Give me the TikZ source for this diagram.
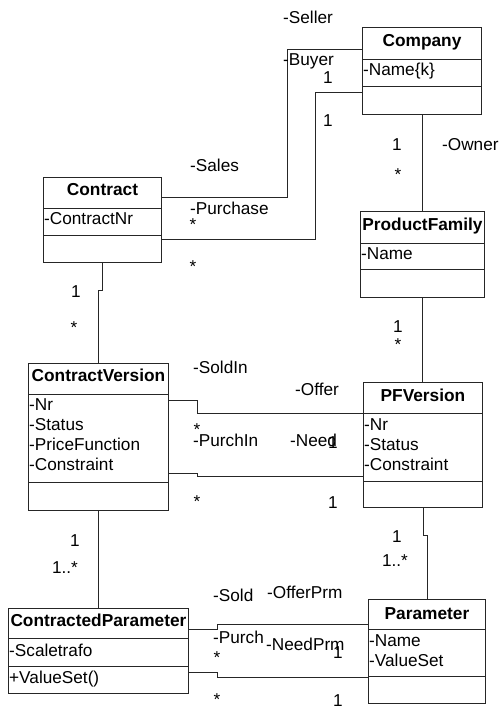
\documentclass[tikz,border=0pt]{standalone}
\usepackage{fontspec}
\setmainfont{Liberation Sans}
\begin{document}
\begin{tikzpicture}[x=1pt,y=-1pt,
  every node/.style={font=\fontsize{17.2}{20}\selectfont},
  classbox/.style={draw=black!85, line width=0.95pt, anchor=north west, inner sep=0pt, rectangle},
  sep/.style={draw=black!85, line width=0.95pt},
  assoc/.style={draw=black!85, line width=0.95pt},
  ctitle/.style={font=\fontsize{17.3}{20}\selectfont\bfseries, inner sep=0pt, text height=0.72em, text depth=0pt, anchor=center},
  attr/.style={inner sep=0pt, text height=0.72em, text depth=0pt, anchor=west, xshift=1pt},
  role/.style={inner sep=0pt, text height=0.72em, text depth=0pt, anchor=west},
  mult/.style={inner sep=0pt, text height=0.72em, text depth=0pt, anchor=center},
  many/.style={mult, yshift=-3.5pt}
]
\useasboundingbox (0,0) rectangle (499,710);
\fill[white] (0,0) rectangle (499,710);

% ---------- classes ----------
% Company
\node[classbox, minimum width=119pt, minimum height=87pt] (company) at (362,27) {};
\draw[sep] (company.west |- 0,59) -- (company.east |- 0,59);
\draw[sep] (company.west |- 0,86) -- (company.east |- 0,86);
\node[ctitle] (companyT) at (company.north |- 0,43) {Company};
\node[attr] (companyA) at (company.west |- 0,72) {-Name\{k\}};

% Contract
\node[classbox, minimum width=118pt, minimum height=85pt] (contract) at (43,177) {};
\draw[sep] (contract.west |- 0,208) -- (contract.east |- 0,208);
\draw[sep] (contract.west |- 0,235) -- (contract.east |- 0,235);
\node[ctitle] (contractT) at (contract.north |- 0,192) {Contract};
\node[attr] (contractA) at (contract.west |- 0,221) {-ContractNr};

% ProductFamily
\node[classbox, minimum width=124pt, minimum height=86pt] (pf) at (360,211) {};
\draw[sep] (pf.west |- 0,243) -- (pf.east |- 0,243);
\draw[sep] (pf.west |- 0,269) -- (pf.east |- 0,269);
\node[ctitle] (pfT) at (pf.north |- 0,227) {ProductFamily};
\node[attr] (pfA) at (pf.west |- 0,256) {-Name};

% ContractVersion
\node[classbox, minimum width=140pt, minimum height=147pt] (cv) at (28,363) {};
\draw[sep] (cv.west |- 0,394) -- (cv.east |- 0,394);
\draw[sep] (cv.west |- 0,482) -- (cv.east |- 0,482);
\node[ctitle] (cvT) at (cv.north |- 0,378) {ContractVersion};
\node[attr] (cvA1) at (cv.west |- 0,407) {-Nr};
\node[attr] (cvA2) at (cv.west |- 0,427) {-Status};
\node[attr] (cvA3) at (cv.west |- 0,447) {-PriceFunction};
\node[attr] (cvA4) at (cv.west |- 0,467) {-Constraint};

% PFVersion
\node[classbox, minimum width=119pt, minimum height=125pt] (pfv) at (363,382) {};
\draw[sep] (pfv.west |- 0,413) -- (pfv.east |- 0,413);
\draw[sep] (pfv.west |- 0,481) -- (pfv.east |- 0,481);
\node[ctitle] (pfvT) at (pfv.north |- 0,398) {PFVersion};
\node[attr] (pfvA1) at (pfv.west |- 0,427) {-Nr};
\node[attr] (pfvA2) at (pfv.west |- 0,447) {-Status};
\node[attr] (pfvA3) at (pfv.west |- 0,467) {-Constraint};

% ContractedParameter
\node[classbox, minimum width=180pt, minimum height=85pt] (cp) at (8,608) {};
\draw[sep] (cp.west |- 0,638) -- (cp.east |- 0,638);
\draw[sep] (cp.west |- 0,666) -- (cp.east |- 0,666);
\node[ctitle] (cpT) at (cp.north |- 0,623) {ContractedParameter};
\node[attr] (cpA) at (cp.west |- 0,653) {-Scaletrafo};
\node[attr] (cpO) at (cp.west |- 0,680) {+ValueSet()};

% Parameter
\node[classbox, minimum width=117pt, minimum height=104pt] (param) at (368,599) {};
\draw[sep] (param.west |- 0,629) -- (param.east |- 0,629);
\draw[sep] (param.west |- 0,676) -- (param.east |- 0,676);
\node[ctitle] (paramT) at (param.north |- 0,616) {Parameter};
\node[attr] (paramA1) at (param.west |- 0,643) {-Name};
\node[attr] (paramA2) at (param.west |- 0,663) {-ValueSet};

% ---------- associations ----------
\draw[assoc] (company.west |- 0,49) -| (287,197) -- (contract.east |- 0,197);
\draw[assoc] (company.west |- 0,92) -| (315,239) -- (contract.east |- 0,239);
\draw[assoc] (company.south) -- (company.south |- pf.north);
\draw[assoc] (contract.south) -- (contract.south |- 0,290) -| (cv.north);
\draw[assoc] (pf.south) -- (pf.south |- pfv.north);
\draw[assoc] (cv.east |- 0,400) -- (197,400) -- (197,413) -- (pfv.west |- 0,413);
\draw[assoc] (cv.east |- 0,473) -- (197,473) -- (197,476) -- (pfv.west |- 0,476);
\draw[assoc] (cv.south) -- (cv.south |- cp.north);
\draw[assoc] (pfv.south) -- (pfv.south |- 0,535) -| (param.north);
\draw[assoc] (cp.east |- 0,629) -- (217,629) -- (217,624) -- (param.west |- 0,624);
\draw[assoc] (cp.east |- 0,672) -- (217,672) -- (217,677) -- (param.west |- 0,677);

% ---------- role names and multiplicities ----------
\node[role] (rSeller) at (283,20) {-Seller};
\node[role] (rBuyer) at (283,62) {-Buyer};
\node[mult] (m1) at (328,80) {1};
\node[mult] (m2) at (328,123) {1};
\node[role] (rSales) at (190,168) {-Sales};
\node[role] (rPurchase) at (190,211) {-Purchase};
\node[many] (m3) at (193,223) {*};
\node[many] (m4) at (193,265) {*};

\node[mult] (m5) at (397,147) {1};
\node[role] (rOwner) at (442,147) {-Owner};
\node[many] (m6) at (398,173) {*};

\node[mult] (m7) at (76,294) {1};
\node[many] (m8) at (74,326) {*};

\node[mult] (m9) at (398,329) {1};
\node[many] (m10) at (398,343) {*};

\node[role] (rSoldIn) at (193,370) {-SoldIn};
\node[role] (rOffer) at (295,392) {-Offer};
\node[many] (m11) at (197,428) {*};
\node[role] (rPurchIn) at (193,443) {-PurchIn};
\node[role] (rNeed) at (290,443) {-Need};
\node[mult] (m12) at (333,445) {1};
\node[many] (m13) at (197,500) {*};
\node[mult] (m14) at (333,505) {1};

\node[mult] (m15) at (75,543) {1};
\node[mult] (m16) at (65,570) {1..*};
\node[mult] (m17) at (397,539) {1};
\node[mult] (m18) at (395,563) {1..*};

\node[role] (rSold) at (213,598) {-Sold};
\node[role] (rOfferPrm) at (267,595) {-OfferPrm};
\node[role] (rPurch) at (213,640) {-Purch};
\node[role] (rNeedPrm) at (266,647) {-NeedPrm};
\node[mult] (m19) at (338,655) {1};
\node[many] (m20) at (217,656) {*};
\node[many] (m21) at (217,698) {*};
\node[mult] (m22) at (338,703) {1};
\end{tikzpicture}
\end{document}
